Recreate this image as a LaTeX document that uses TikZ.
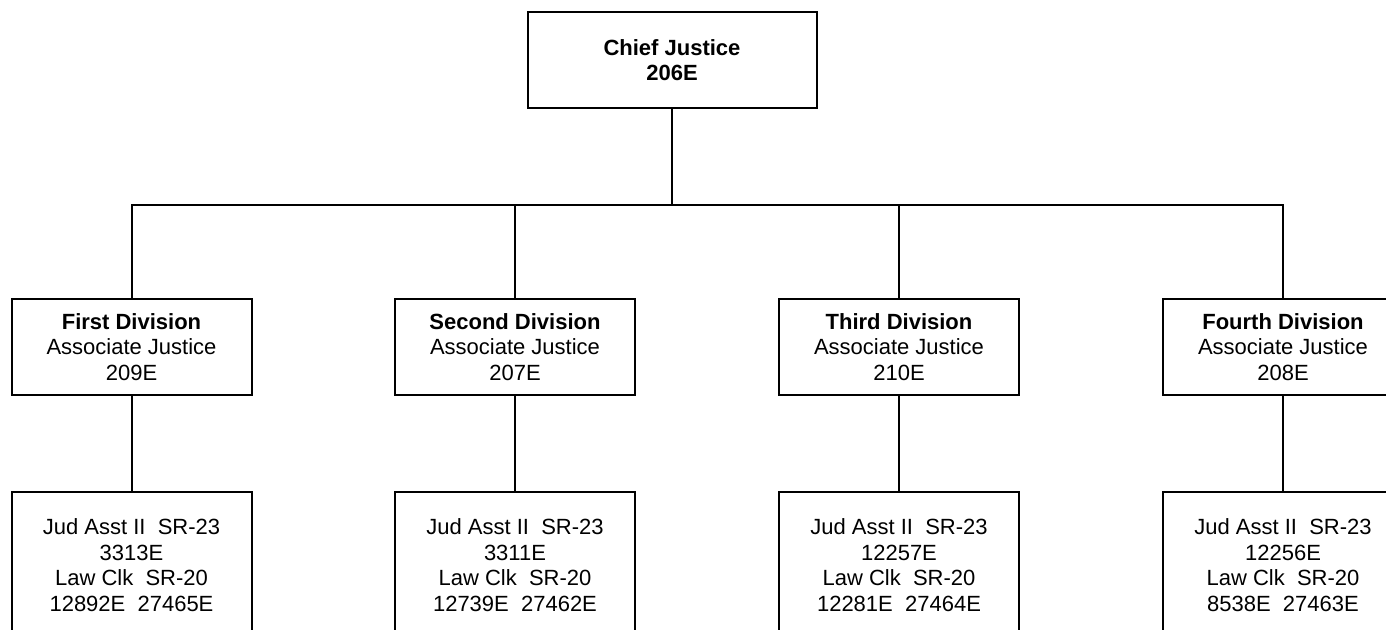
\documentclass[tikz,border=0pt]{standalone}
\usepackage{fontspec}
\setmainfont{Liberation Sans}

\begin{document}
\begin{tikzpicture}[x=0.5pt,y=-0.5pt]
\tikzstyle{every node}=[font=\fontsize{11}{12.8}\selectfont]
\tikzstyle{post}=[draw, line width=1pt, align=center, inner sep=0pt, minimum width=120pt, minimum height=48pt]
\tikzstyle{staff}=[post, minimum height=73pt]
\tikzstyle{link}=[line width=1pt]

\useasboundingbox (0,0) rectangle (1386,630);
\clip (0,0) rectangle (1386,630);

% top
\node[post, minimum width=144.5pt] (chief) at (672,60) {\textbf{Chief Justice}\\\textbf{206E}};

% divisions
\node[post] (first)  at (131.5,347) {\textbf{First Division}\\Associate Justice\\209E};
\node[post] (second) at (515,347)   {\textbf{Second Division}\\Associate Justice\\207E};
\node[post] (third)  at (899,347)   {\textbf{Third Division}\\Associate Justice\\210E};
\node[post] (fourth) at (1283,347)  {\textbf{Fourth Division}\\Associate Justice\\208E};

% staff
\node[staff] (firststaff)  at (131.5,565) {Jud Asst II~~SR-23\\3313E\\Law Clk~~SR-20\\12892E~~27465E};
\node[staff] (secondstaff) at (515,565)   {Jud Asst II~~SR-23\\3311E\\Law Clk~~SR-20\\12739E~~27462E};
\node[staff] (thirdstaff)  at (899,565)   {Jud Asst II~~SR-23\\12257E\\Law Clk~~SR-20\\12281E~~27464E};
\node[staff] (fourthstaff) at (1283,565)  {Jud Asst II~~SR-23\\12256E\\Law Clk~~SR-20\\8538E~~27463E};

\draw[link] (chief.south) -- ++(0,96) -| (first.north);
\draw[link] (chief.south) -- ++(0,96) -| (second.north);
\draw[link] (chief.south) -- ++(0,96) -| (third.north);
\draw[link] (chief.south) -- ++(0,96) -| (fourth.north);

\draw[link] (first.south) -- (firststaff.north);
\draw[link] (second.south) -- (secondstaff.north);
\draw[link] (third.south) -- (thirdstaff.north);
\draw[link] (fourth.south) -- (fourthstaff.north);

\end{tikzpicture}
\end{document}
